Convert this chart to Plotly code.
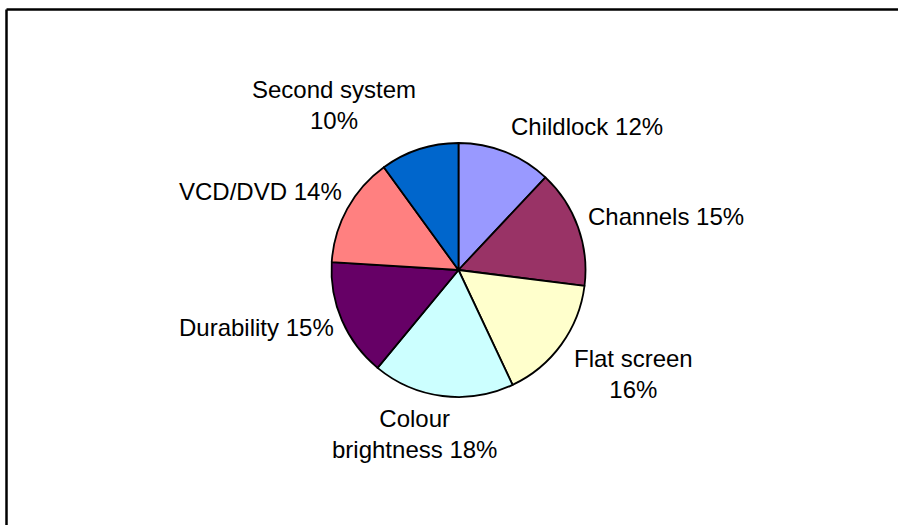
import plotly.graph_objects as go

categories = ["Childlock", "Channels", "Flat screen", "Colour brightness",
              "Durability", "VCD/DVD", "Second system"]
values = [12, 15, 16, 18, 15, 14, 10]
colors = ["#9999FF", "#993366", "#FFFFCC", "#CCFFFF", "#660066", "#FF8080", "#0066CC"]
label_texts = ["Childlock 12%", "Channels 15%", "Flat screen<br>16%",
               "Colour<br>brightness 18%", "Durability 15%", "VCD/DVD 14%",
               "Second system<br>10%"]

W, H = 898, 525
cx, cy, r = 458.5, 270, 127

fig = go.Figure(go.Pie(
    labels=categories, values=values, sort=False, direction="clockwise",
    rotation=0, textinfo="none", hoverinfo="label+percent",
    marker=dict(colors=colors, line=dict(color="black", width=1.8)),
    domain=dict(x=[(cx - r) / W, (cx + r) / W],
                y=[(H - cy - r) / H, (H - cy + r) / H]),
    showlegend=False,
))

# label positions in pixels (x, y from top)
label_pos = [(586.5, 126), (665.5, 216), (633, 374), (414, 434),
             (256, 327), (260, 192), (334, 105)]
for txt, (px, py) in zip(label_texts, label_pos):
    fig.add_annotation(x=px / W, y=1 - py / H, xref="paper", yref="paper",
                       text=txt, showarrow=False, xanchor="center", yanchor="middle",
                       align="center",
                       font=dict(family="Liberation Sans, Arial", size=24, color="black"))

# frame: only left and top edges fall inside the picture
fig.add_shape(type="line", xref="paper", yref="paper",
              x0=6.5 / W, x1=6.5 / W, y0=-0.1, y1=1 - 9.5 / H,
              line=dict(color="black", width=2.5))
fig.add_shape(type="line", xref="paper", yref="paper",
              x0=6.5 / W, x1=1.1, y0=1 - 9.5 / H, y1=1 - 9.5 / H,
              line=dict(color="black", width=2.5))

fig.update_layout(width=W, height=H, margin=dict(l=0, r=0, t=0, b=0),
                  paper_bgcolor="white", plot_bgcolor="white")
fig.write_html("out.html", config={"displayModeBar": False},
               post_script="document.body.style.margin='0';document.body.style.overflow='hidden';")
